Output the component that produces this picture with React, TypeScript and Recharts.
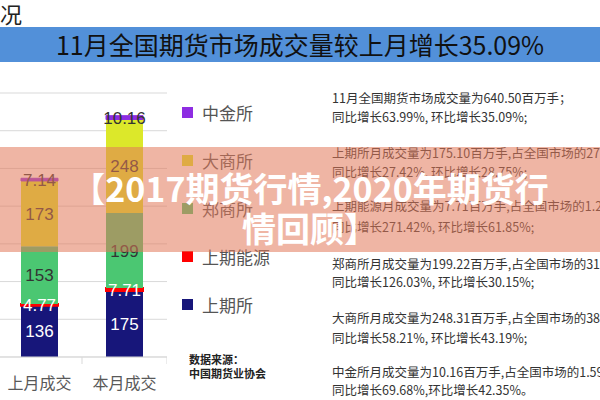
import { BarChart, Bar, XAxis, YAxis, CartesianGrid, LabelList } from "recharts";

const categories = ["上月成交", "本月成交"];
// stacked from bottom to top
const shfe = [136, 175]; // 上期所
const ine = [4.77, 7.71]; // 上期能源
const czce = [153, 199]; // 郑商所
const dce = [173, 248]; // 大商所
const cffex = [7.14, 10.16]; // 中金所
const yTicks = [0, 100, 200, 300, 400, 500, 600, 700];

const legendItems = [
  { name: "中金所", color: "#8E2DE2" },
  { name: "大商所", color: "#DCE82A" },
  { name: "郑商所", color: "#4BC772" },
  { name: "上期能源", color: "#FF0000" },
  { name: "上期所", color: "#17167A" },
];

const notes = [
  "11月全国期货市场成交量为640.50百万手；",
  "同比增长63.99%, 环比增长35.09%;",
  "上期所月成交量为175.10百万手,占全国市场的27.34%,",
  "同比增长27.42%, 环比增长28.75%;",
  "上期能源月成交量为7.71百万手,占全国市场的1.20%,",
  "同比增长271.42%, 环比增长61.85%;",
  "郑商所月成交量为199.22百万手,占全国市场的31.10%,",
  "同比增长126.03%, 环比增长30.15%;",
  "大商所月成交量为248.31百万手,占全国市场的38.77%,",
  "同比增长58.21%, 环比增长43.19%;",
  "中金所月成交量为10.16百万手,占全国市场的1.59%,",
  "同比增长69.68%,环比增长42.35%。",
];
const noteTops = [98, 117, 153, 172, 206, 227, 264, 282, 318, 338, 372, 390];

const data = categories.map((name, i) => ({
  name,
  shfe: shfe[i],
  ine: ine[i],
  czce: czce[i],
  dce: dce[i],
  cffex: cffex[i],
}));

const labelFont = "'Liberation Sans', Arial, sans-serif";

const CategoryTick = (props: any) => {
  const { x, y, payload } = props;
  return (
    <g>
      <text
        x={x}
        y={y + 24}
        textAnchor="middle"
        fill="#595959"
        fontSize={16}
        fontFamily="'Noto Sans CJK SC', sans-serif"
      >
        {payload.value}
      </text>
      <line x1={x + 42.5} x2={x + 42.5} y1={y - 8} y2={y - 1} stroke="#D9D9D9" />
    </g>
  );
};

export default function App() {
  return (
    <div
      style={{
        position: "absolute",
        left: 0,
        top: 0,
        width: 600,
        height: 400,
        overflow: "hidden",
        background: "#fff",
        fontFamily: "'Noto Sans CJK SC', sans-serif",
      }}
    >
      {/* clipped page title */}
      <div style={{ position: "absolute", left: 0, top: -3, fontSize: 22, color: "#222" }}>况</div>

      {/* blue banner */}
      <div
        style={{
          position: "absolute",
          left: 0,
          top: 27,
          width: 600,
          height: 35,
          background: "#5290D9",
          color: "#111",
          fontSize: 25,
          lineHeight: "35px",
          textAlign: "center",
        }}
      >
        11月全国期货市场成交量较上月增长35.09%
      </div>

      <div style={{ position: "absolute", left: -3, top: 0 }}>
        <BarChart width={170} height={400} data={data} margin={{ top: 93, right: 0, left: 0, bottom: 3 }}>
          <CartesianGrid vertical={false} stroke="#D9D9D9" />
          <XAxis
            dataKey="name"
            height={40}
            axisLine={{ stroke: "#D9D9D9" }}
            tickLine={false}
            tick={<CategoryTick />}
            interval={0}
          />
          <YAxis hide domain={[0, 700]} ticks={yTicks} />
          <Bar dataKey="shfe" stackId="a" fill="#17167A" barSize={37} isAnimationActive={false}>
            <LabelList dataKey="shfe" position="center" fill="#fff" fontSize={17} fontFamily={labelFont} />
          </Bar>
          <Bar dataKey="ine" stackId="a" fill="#FF0000" stroke="#FF0000" strokeWidth={2} barSize={37} isAnimationActive={false}>
            <LabelList dataKey="ine" position="center" fill="#fff" fontSize={17} fontFamily={labelFont} />
          </Bar>
          <Bar dataKey="czce" stackId="a" fill="#4BC772" barSize={37} isAnimationActive={false}>
            <LabelList dataKey="czce" position="center" fill="#333" fontSize={17} fontFamily={labelFont} />
          </Bar>
          <Bar dataKey="dce" stackId="a" fill="#DCE82A" barSize={37} isAnimationActive={false}>
            <LabelList dataKey="dce" position="center" fill="#333" fontSize={17} fontFamily={labelFont} />
          </Bar>
          <Bar dataKey="cffex" stackId="a" fill="#8E2DE2" stroke="#8E2DE2" strokeWidth={1} barSize={37} isAnimationActive={false}>
            <LabelList dataKey="cffex" position="center" fill="#333" fontSize={17} fontFamily={labelFont} />
          </Bar>
        </BarChart>
      </div>

      {/* legend */}
      {legendItems.map((item, i) => (
        <div
          key={item.name}
          style={{ position: "absolute", left: 182, top: 100 + i * 48, height: 24, display: "flex", alignItems: "center" }}
        >
          <span style={{ width: 11, height: 11, background: item.color, display: "inline-block" }} />
          <span style={{ marginLeft: 9, fontSize: 17, color: "#555", whiteSpace: "nowrap" }}>{item.name}</span>
        </div>
      ))}

      <div style={{ position: "absolute", left: 189, top: 352, fontSize: 11, fontWeight: 700, color: "#222", lineHeight: "14px" }}>
        数据来源：
        <br />
        中国期货业协会
      </div>

      {/* notes */}
      {notes.map((line, i) => (
        <div
          key={i}
          style={{
            position: "absolute",
            left: 332,
            top: noteTops[i] - 9,
            fontSize: 12.5,
            lineHeight: "18px",
            color: "#333",
            whiteSpace: "nowrap",
          }}
        >
          {line}
        </div>
      ))}

      {/* overlay band */}
      <div
        style={{
          position: "absolute",
          left: 0,
          top: 147,
          width: 600,
          height: 105,
          background: "rgba(226,120,90,0.55)",
        }}
      />
      <div
        style={{
          position: "absolute",
          left: 60,
          top: 168,
          width: 500,
          textAlign: "center",
          color: "#fff",
          fontSize: 34,
          fontWeight: 700,
          lineHeight: "40px",
          whiteSpace: "nowrap",
        }}
      >
        【2017期货行情,2020年期货行
        <br />
        情回顾】
      </div>
    </div>
  );
}
